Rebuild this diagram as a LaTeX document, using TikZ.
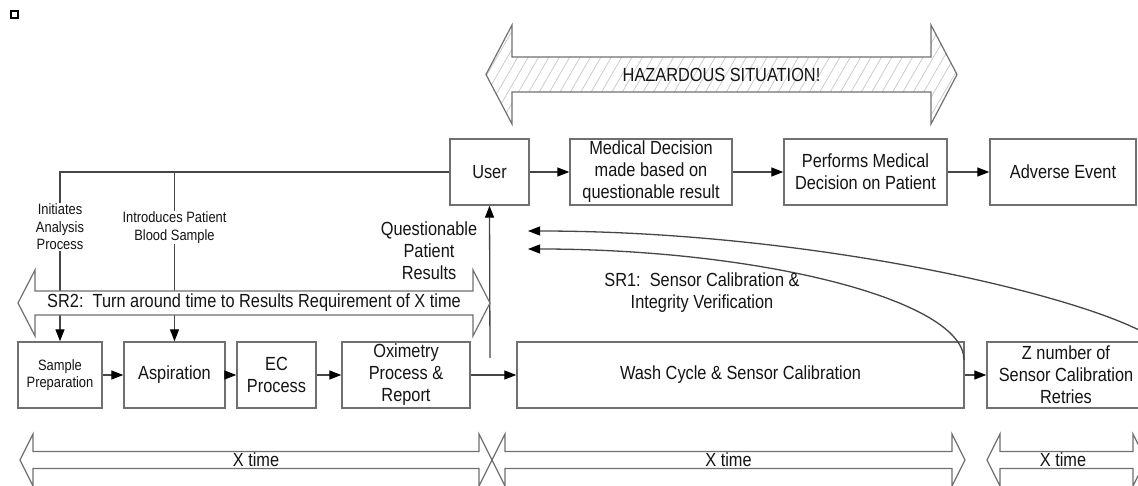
\documentclass[tikz,border=0pt]{standalone}
\usepackage{fontspec}
\setmainfont{Liberation Sans}[FakeStretch=0.86]
\usetikzlibrary{arrows.meta,patterns.meta}
\definecolor{boxgray}{RGB}{112,112,112}
\definecolor{linecol}{RGB}{70,70,70}
\definecolor{txt}{RGB}{20,20,20}
\newcommand{\mainsz}{\fontsize{19pt}{22pt}\selectfont}
\newcommand{\smallsz}{\fontsize{15pt}{17.5pt}\selectfont}
% double arrow outline: left tip x, right tip x, centre y, shaft half, head half, head length
\newcommand{\dblarrowpath}[6]{(#1,#3) -- ({#1+#6},{#3-#5}) -- ({#1+#6},{#3-#4}) -- ({#2-#6},{#3-#4}) -- ({#2-#6},{#3-#5}) -- (#2,#3) -- ({#2-#6},{#3+#5}) -- ({#2-#6},{#3+#4}) -- ({#1+#6},{#3+#4}) -- ({#1+#6},{#3+#5}) -- cycle}
\begin{document}
\begin{tikzpicture}[x=1pt,y=-1pt,
  box/.style={draw=boxgray, line width=1.4pt, fill=white, align=center, inner sep=1pt, minimum height=66pt, font=\mainsz, text=txt},
  sbox/.style={box, font=\smallsz},
  conn/.style={draw=linecol, line width=1.3pt, -{Triangle[length=12pt,width=9pt,color=black]}},
  plainline/.style={draw=linecol, line width=1.3pt},
  lbl/.style={align=center, font=\mainsz, text=txt, inner sep=1pt},
  slbl/.style={align=center, font=\smallsz, text=txt, inner sep=1pt, fill=white},
  band/.style={draw=boxgray, line width=1.2pt, fill=white},
  hatchband/.style={draw=boxgray, line width=1.2pt, pattern={Lines[angle=60,distance=9pt,line width=0.7pt]}, pattern color=gray!45},
]
\useasboundingbox (0,0) rectangle (1138,486);
\clip (0,0) rectangle (1138,486);

% small marker square
\node[draw=black, line width=2pt, minimum size=7pt, inner sep=0pt] (sq) at (14.5,14.5) {};

% hazard band
\draw[hatchband] \dblarrowpath{486}{957}{74.5}{17.5}{49.5}{26};
\node[lbl] (haz) at (721.5,74.5) {HAZARDOUS SITUATION!};

% top row
\node[box, minimum width=79pt] (user) at (489.5,172) {User};
\node[box, minimum width=162pt] (med) at (651,172) {Medical Decision\\made based on\\questionable result};
\node[box, minimum width=163pt] (perf) at (865.5,172) {Performs Medical\\Decision on Patient};
\node[box, minimum width=146pt] (adv) at (1063,172) {Adverse Event};

% bottom row
\node[sbox, minimum width=84pt] (sp) at (60,375) {Sample\\Preparation};
\node[box, minimum width=101pt] (asp) at (174.5,375) {Aspiration};
\node[box, minimum width=79pt] (ec) at (276.5,375) {EC\\Process};
\node[box, minimum width=128pt] (oxi) at (406,375) {Oximetry\\Process \&\\Report};
\node[box, minimum width=447pt] (wash) at (740.5,375) {Wash Cycle \& Sensor Calibration};
\node[box, minimum width=158pt] (zn) at (1066,375) {Z number of\\Sensor Calibration\\Retries};

% top row connectors
\draw[conn] (user) -- (med);
\draw[conn] (med) -- (perf);
\draw[conn] (perf) -- (adv);

% bottom row connectors
\draw[conn] (sp) -- (asp);
\draw[conn] (asp) -- (ec);
\draw[conn] (ec) -- (oxi);
\draw[conn] (oxi) -- (wash);
\draw[conn] (wash) -- (zn);

% user to sample preparation and aspiration
\draw[conn] (user.west) -| (sp.north);
\draw[conn] (asp.north |- user.west) -- (asp.north);

% results up to user
\coordinate (qstart) at (490,358);
\draw[conn] (qstart) -- (user.south);

% feedback curves
\coordinate (c1s) at (964,360);
\coordinate (c1e) at (528,249);
\coordinate (c2s) at (1141,331);
\coordinate (c2e) at (528,231);
\draw[conn] (c1s) .. controls (964,300) and (760,249) .. (c1e);
\draw[conn] (c2s) .. controls (1060,290) and (800,231) .. (c2e);

% SR2 band (drawn over the lines)
\draw[band] \dblarrowpath{18}{490}{303}{12}{33}{17};
\node[lbl] (sr2) at (254,303) {SR2:\ \ Turn around time to Results Requirement of X time};

% labels on lines
\node[slbl] (init) at (60,227) {Initiates\\Analysis\\Process};
\node[slbl] (intro) at (174.5,227.5) {Introduces Patient\\Blood Sample};
\node[lbl] (qpr) at (429,250.5) {Questionable\\Patient\\Results};
\node[lbl] (sr1) at (702,293) {SR1:\ \ Sensor Calibration \&\\Integrity Verification};

% bottom time bands
\draw[band] \dblarrowpath{20}{492}{460}{8.5}{26}{13};
\draw[band] \dblarrowpath{492}{965}{460}{8.5}{26}{13};
\draw[band] \dblarrowpath{987}{1146}{460}{8.5}{26}{13};
\node[lbl] (xt1) at (256,460) {X time};
\node[lbl] (xt2) at (728.5,460) {X time};
\node[lbl] (xt3) at (1063,460) {X time};
\end{tikzpicture}
\end{document}
